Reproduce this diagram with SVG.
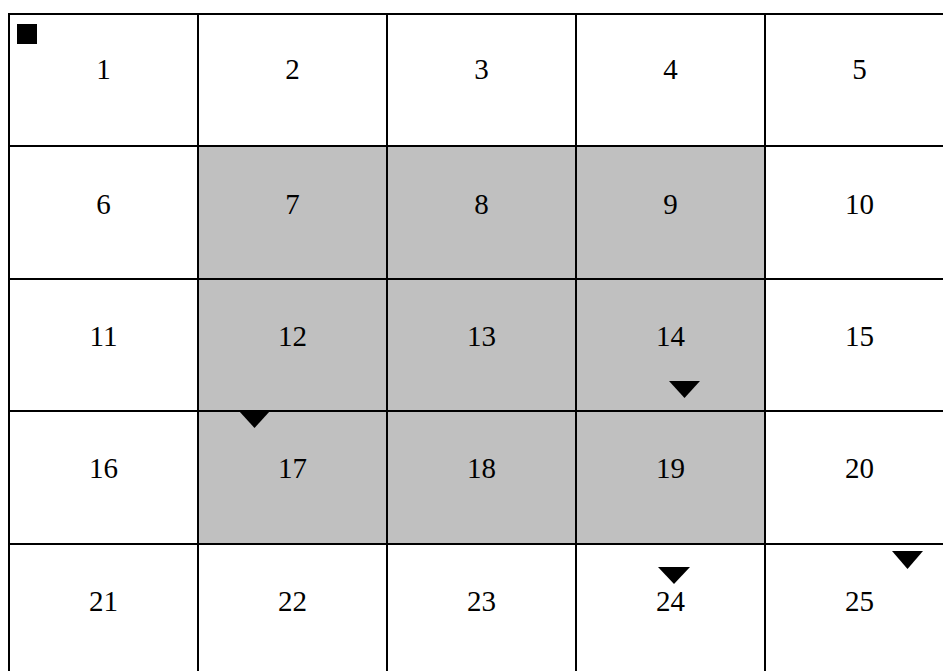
<svg xmlns="http://www.w3.org/2000/svg" width="943" height="671" viewBox="0 0 943 671">
<style>
.c{fill:#ffffff;stroke:#000000;stroke-width:2}
.g{fill:#c0c0c0;stroke:#000000;stroke-width:2}
.t{font-family:"Liberation Serif","Times New Roman",serif;font-size:29px;fill:#000000;text-anchor:middle}
.m{fill:#000000}
</style>
<rect width="943" height="671" fill="#ffffff"/>
<g id="cells">
<g id="cell1"><rect class="c" x="9" y="14" width="189" height="132"/><text class="t" x="103.5" y="79">1</text></g>
<g id="cell2"><rect class="c" x="198" y="14" width="189" height="132"/><text class="t" x="292.5" y="79">2</text></g>
<g id="cell3"><rect class="c" x="387" y="14" width="189" height="132"/><text class="t" x="481.5" y="79">3</text></g>
<g id="cell4"><rect class="c" x="576" y="14" width="189" height="132"/><text class="t" x="670.5" y="79">4</text></g>
<g id="cell5"><rect class="c" x="765" y="14" width="189" height="132"/><text class="t" x="859.5" y="79">5</text></g>

<g id="cell6"><rect class="c" x="9" y="146" width="189" height="133"/><text class="t" x="103.5" y="214">6</text></g>
<g id="cell7"><rect class="g" x="198" y="146" width="189" height="133"/><text class="t" x="292.5" y="214">7</text></g>
<g id="cell8"><rect class="g" x="387" y="146" width="189" height="133"/><text class="t" x="481.5" y="214">8</text></g>
<g id="cell9"><rect class="g" x="576" y="146" width="189" height="133"/><text class="t" x="670.5" y="214">9</text></g>
<g id="cell10"><rect class="c" x="765" y="146" width="189" height="133"/><text class="t" x="859.5" y="214">10</text></g>

<g id="cell11"><rect class="c" x="9" y="279" width="189" height="132"/><text class="t" x="103.5" y="346">11</text></g>
<g id="cell12"><rect class="g" x="198" y="279" width="189" height="132"/><text class="t" x="292.5" y="346">12</text></g>
<g id="cell13"><rect class="g" x="387" y="279" width="189" height="132"/><text class="t" x="481.5" y="346">13</text></g>
<g id="cell14"><rect class="g" x="576" y="279" width="189" height="132"/><text class="t" x="670.5" y="346">14</text></g>
<g id="cell15"><rect class="c" x="765" y="279" width="189" height="132"/><text class="t" x="859.5" y="346">15</text></g>

<g id="cell16"><rect class="c" x="9" y="411" width="189" height="133"/><text class="t" x="103.5" y="478">16</text></g>
<g id="cell17"><rect class="g" x="198" y="411" width="189" height="133"/><text class="t" x="292.5" y="478">17</text></g>
<g id="cell18"><rect class="g" x="387" y="411" width="189" height="133"/><text class="t" x="481.5" y="478">18</text></g>
<g id="cell19"><rect class="g" x="576" y="411" width="189" height="133"/><text class="t" x="670.5" y="478">19</text></g>
<g id="cell20"><rect class="c" x="765" y="411" width="189" height="133"/><text class="t" x="859.5" y="478">20</text></g>

<g id="cell21"><rect class="c" x="9" y="544" width="189" height="132"/><text class="t" x="103.5" y="611">21</text></g>
<g id="cell22"><rect class="c" x="198" y="544" width="189" height="132"/><text class="t" x="292.5" y="611">22</text></g>
<g id="cell23"><rect class="c" x="387" y="544" width="189" height="132"/><text class="t" x="481.5" y="611">23</text></g>
<g id="cell24"><rect class="c" x="576" y="544" width="189" height="132"/><text class="t" x="670.5" y="611">24</text></g>
<g id="cell25"><rect class="c" x="765" y="544" width="189" height="132"/><text class="t" x="859.5" y="611">25</text></g>
</g>
<g id="marks">
<rect class="m" x="17" y="24" width="20" height="20"/>
<polygon class="m" points="669,381 700,381 684.5,398"/>
<polygon class="m" points="239,411 270,411 254.5,428"/>
<polygon class="m" points="658,567 690,567 674,584"/>
<polygon class="m" points="892,551 923,551 907.5,569"/>
</g>
</svg>
